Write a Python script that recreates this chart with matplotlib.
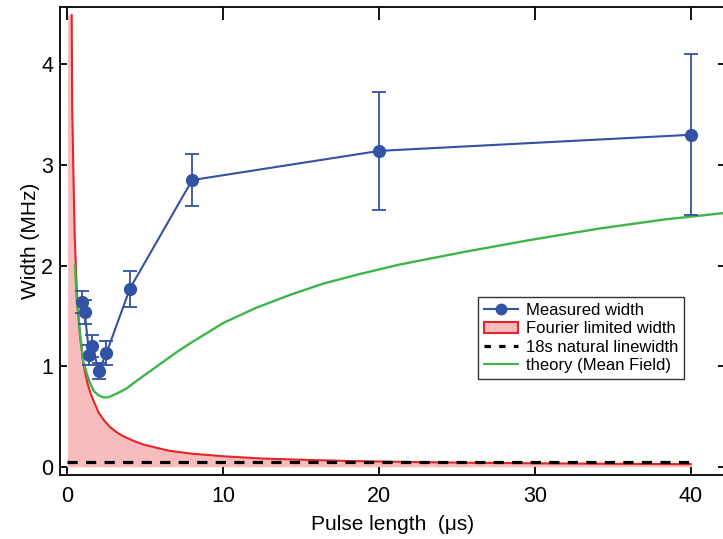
import matplotlib
matplotlib.use("Agg")
import matplotlib.pyplot as plt
from matplotlib.patches import Patch
from matplotlib.lines import Line2D

plt.rcParams['font.family'] = ['Liberation Sans', 'DejaVu Sans']

# measured widths (MHz) vs pulse length (us)
pulse = [0.9, 1.1, 1.4, 1.6, 2.0, 2.5, 4, 8, 20, 40]
width = [1.64, 1.54, 1.11, 1.20, 0.95, 1.13, 1.77, 2.85, 3.14, 3.30]
width_err = [0.11, 0.12, 0.10, 0.11, 0.08, 0.12, 0.18, 0.26, 0.59, 0.80]

# Fourier limited width
fourier_x = [0.27, 0.3, 0.37, 0.46, 0.6, 0.8, 1.0, 1.15, 1.3, 1.48, 1.66, 2.0, 2.3, 2.7,
             3.1, 3.5, 4.2, 4.9, 5.7, 6.5, 8.0, 10, 12.4, 15, 18.3, 22, 26, 30, 35, 40]
fourier_y = [4.49, 3.6, 3.0, 2.3, 1.75, 1.3, 1.05, 0.92, 0.82, 0.73, 0.66, 0.54, 0.47, 0.40,
             0.35, 0.31, 0.26, 0.22, 0.19, 0.16, 0.13, 0.105, 0.083, 0.07, 0.057, 0.048,
             0.04, 0.035, 0.03, 0.026]

# 18s natural linewidth
natural_x = [0, 40]
natural_y = [0.045, 0.045]

# theory (mean field)
theory_x = [0.48, 0.59, 0.8, 1.0, 1.25, 1.45, 1.7, 2.0, 2.3, 2.6, 3.2, 3.8, 4.4,
            5.3, 6.2, 7.1, 7.9, 10, 12.1, 14.3, 16.4, 18.6, 21.3, 25.6, 29.9, 34.2, 38.4, 42]
theory_y = [2.0, 1.66, 1.33, 1.06, 0.92, 0.83, 0.75, 0.71, 0.69, 0.69, 0.73, 0.78, 0.85,
            0.95, 1.05, 1.15, 1.23, 1.43, 1.58, 1.71, 1.82, 1.91, 2.01, 2.14, 2.26, 2.37,
            2.46, 2.52]

blue = '#3352a3'
red = '#e8232a'
pink = '#f7bcbc'
green = '#3db54a'

fig = plt.figure(figsize=(7.23, 5.39), dpi=100)
ax = fig.add_axes([0.083, 0.119, 0.92, 0.868])

ax.fill_between([0] + fourier_x, [fourier_y[0]] + fourier_y, 0, color=pink, lw=0, zorder=1)
ax.plot(fourier_x, fourier_y, color=red, lw=1.5, zorder=2)
ax.plot(natural_x, natural_y, color='black', lw=2.3, linestyle=(0, (3.2, 2.6)), zorder=3)
ax.plot(theory_x, theory_y, color=green, lw=1.7, zorder=4)
ax.errorbar(pulse, width, yerr=width_err, color=blue, lw=1.5, marker='o', markersize=8.5,
            capsize=5, capthick=1.3, elinewidth=1.3, zorder=5)

ax.set_xlim(-0.48, 42.2)
ax.set_ylim(-0.08, 4.57)
ax.set_xticks([0, 10, 20, 30, 40])
ax.set_yticks([0, 1, 2, 3, 4])
ax.tick_params(direction='in', length=5, width=1.3, labelsize=15.5, top=True, right=True)
ax.tick_params(axis='y', pad=5)
ax.tick_params(axis='x', length=6, pad=8)
for t in ax.xaxis.get_major_ticks():
    t.tick2line.set_markersize(9)
for s in ax.spines.values():
    s.set_linewidth(1.3)

ax.set_xlabel('Pulse length  (\u03bcs)', fontsize=15, labelpad=6)
ax.set_ylabel('Width (MHz)', fontsize=15, labelpad=1)

handles = [
    Line2D([], [], color=blue, lw=1.5, marker='o', markersize=7.5),
    Patch(facecolor=pink, edgecolor=red, lw=1.5),
    Line2D([], [], color='black', lw=2.3, linestyle=(0, (2.0, 2.6))),
    Line2D([], [], color=green, lw=1.5),
]
labels = ['Measured width', 'Fourier limited width', '18s natural linewidth', 'theory (Mean Field)']
leg = ax.legend(handles, labels, loc='lower left', bbox_to_anchor=(0.629, 0.205),
                fontsize=12, frameon=True, fancybox=False, edgecolor='black',
                handlelength=2.0, handletextpad=0.5, labelspacing=0.2,
                borderpad=0.35, borderaxespad=0)
leg.get_frame().set_linewidth(1.0)

fig.savefig('out.png', dpi=100)
